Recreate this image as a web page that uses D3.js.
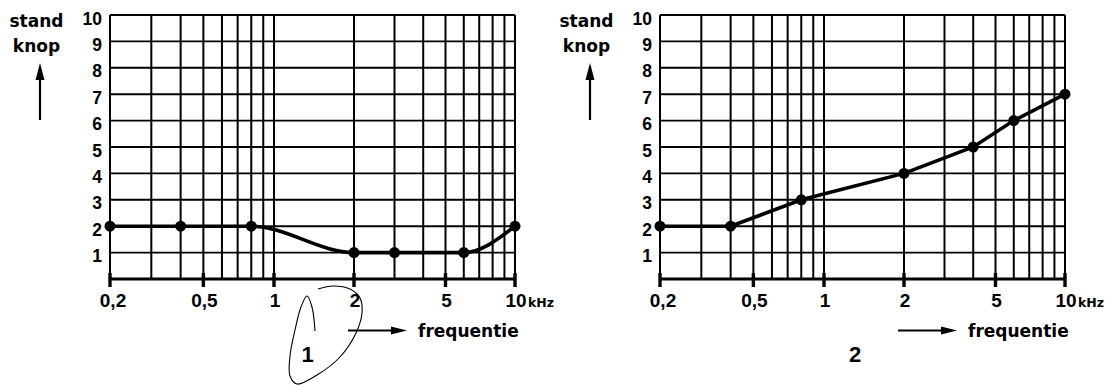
<!DOCTYPE html>
<html>
<head>
<meta charset="utf-8">
<script src="https://cdn.jsdelivr.net/npm/d3@7"></script>
<style>
  html, body { margin: 0; padding: 0; background: #fff; }
  svg { display: block; }
</style>
</head>
<body>
<svg id="chart" width="1110" height="385"></svg>
<script>
// ---- data ----
const gridFreqs = [0.2, 0.3, 0.4, 0.5, 0.6, 0.7, 0.8, 0.9, 1, 2, 3, 4, 5, 6, 7, 8, 9, 10];
const tickFreqs = [0.2, 0.5, 1, 2, 5, 10];
const tickLabels = ["0,2", "0,5", "1", "2", "5", "10"];
const yTickValues = [1, 2, 3, 4, 5, 6, 7, 8, 9, 10];
const yGridValues = [0, 1, 2, 3, 4, 5, 6, 7, 8, 9, 10];

const freq1 = [0.2, 0.4, 0.8, 2, 3, 6, 10];
const stand1 = [2, 2, 2, 1, 1, 1, 2];
const freq2 = [0.2, 0.4, 0.8, 2, 4, 6, 10];
const stand2 = [2, 2, 3, 4, 5, 6, 7];

const chartNames = ["1", "2"];
const yTitle = ["stand", "knop"];
const xTitle = "frequentie";
const unit = "kHz";

// hand-drawn loop around chart label "1" (annotation, pixel coords)
const loopPath = [[315,331],[312,307],[307,296],[301,307],[295,330],[290,356],[290,376],[297,384],[317,375],[340,357],[356,333],[362,313],[360,298],[350,289],[333,286],[318,289]];

// ---- drawing ----
const svg = d3.select("#chart");
const numFont = "'Liberation Sans', Arial, sans-serif";
const wordFont = "'DejaVu Sans', sans-serif";

const x = d3.scaleLog().domain([0.2, 1, 2, 5, 10]).range([110, 274, 354, 445.5, 515]);
const y = d3.scaleLinear().domain([0, 10]).range([279, 15]);

function drawChart(offset, freqs, vals, curve) {
  const g = svg.append("g").attr("transform", `translate(${offset},0)`);

  // vertical grid
  g.selectAll("line.vg").data(gridFreqs).join("line")
    .attr("x1", d => x(d)).attr("x2", d => x(d))
    .attr("y1", y(10)).attr("y2", y(0))
    .attr("stroke", "#000").attr("stroke-width", 2);
  // horizontal grid
  g.selectAll("line.hg").data(yGridValues).join("line")
    .attr("x1", x(0.2)).attr("x2", x(10))
    .attr("y1", d => y(d)).attr("y2", d => y(d))
    .attr("stroke", "#000").attr("stroke-width", d => d === 0 ? 3.2 : 1.9);

  // bottom tick marks
  g.selectAll("line.tk").data(tickFreqs).join("line")
    .attr("x1", d => x(d)).attr("x2", d => x(d))
    .attr("y1", y(0) - 6).attr("y2", y(0) + 8)
    .attr("stroke", "#000").attr("stroke-width", 3.4);

  // x tick labels
  g.selectAll("text.xl").data(tickFreqs).join("text")
    .attr("x", d => x(d) + (d === 0.2 ? 3 : 1)).attr("y", 307)
    .attr("text-anchor", "middle")
    .attr("font-family", numFont).attr("font-weight", "bold").attr("font-size", 19)
    .text((d, i) => tickLabels[i]);
  g.append("text").attr("x", x(10) + 13).attr("y", 307)
    .attr("font-family", wordFont).attr("font-weight", "bold").attr("font-size", 12.5)
    .text(unit);

  // y tick labels
  g.selectAll("text.yl").data(yTickValues).join("text")
    .attr("x", 102).attr("y", d => y(d) + 9.5)
    .attr("text-anchor", "end")
    .attr("font-family", numFont).attr("font-weight", "bold").attr("font-size", 17.5)
    .text(d => d);

  // y title + arrow
  yTitle.forEach((t, i) => {
    g.append("text").attr("x", 36.5).attr("y", 26.5 + i * 25)
      .attr("text-anchor", "middle")
      .attr("font-family", wordFont).attr("font-weight", "bold").attr("font-size", 17)
      .text(t);
  });
  g.append("line").attr("x1", 40).attr("x2", 40).attr("y1", 120).attr("y2", 75)
    .attr("stroke", "#000").attr("stroke-width", 2.2);
  g.append("path").attr("d", "M40,63 L35.5,80 L44.5,80 Z").attr("fill", "#000");

  // x title + arrow
  g.append("line").attr("x1", 348).attr("x2", 395).attr("y1", 330.5).attr("y2", 330.5)
    .attr("stroke", "#000").attr("stroke-width", 2.2);
  g.append("path").attr("d", "M407,330.5 L391,326.5 L391,334.5 Z").attr("fill", "#000");
  g.append("text").attr("x", 418).attr("y", 337)
    .attr("font-family", wordFont).attr("font-weight", "bold").attr("font-size", 17)
    .text(xTitle);

  // data line
  const pts = freqs.map((f, i) => [f, vals[i]]);
  const line = d3.line().x(d => x(d[0])).y(d => y(d[1])).curve(curve);
  g.append("path").attr("d", line(pts))
    .attr("fill", "none").attr("stroke", "#000").attr("stroke-width", 3.6);
  g.selectAll("circle").data(pts).join("circle")
    .attr("cx", d => x(d[0])).attr("cy", d => y(d[1])).attr("r", 5.5)
    .attr("fill", "#000");

  return g;
}

drawChart(0, freq1, stand1, d3.curveMonotoneX);
drawChart(550, freq2, stand2, d3.curveLinear);

// chart numbers
svg.append("text").attr("x", 307.5).attr("y", 362).attr("text-anchor", "middle")
  .attr("font-family", numFont).attr("font-weight", "bold").attr("font-size", 22)
  .text(chartNames[0]);
svg.append("text").attr("x", 855).attr("y", 362).attr("text-anchor", "middle")
  .attr("font-family", numFont).attr("font-weight", "bold").attr("font-size", 22)
  .text(chartNames[1]);

// hand-drawn loop annotation
svg.append("path")
  .attr("d", d3.line().curve(d3.curveCatmullRom)(loopPath))
  .attr("fill", "none").attr("stroke", "#000").attr("stroke-width", 1.1);
</script>
</body>
</html>
